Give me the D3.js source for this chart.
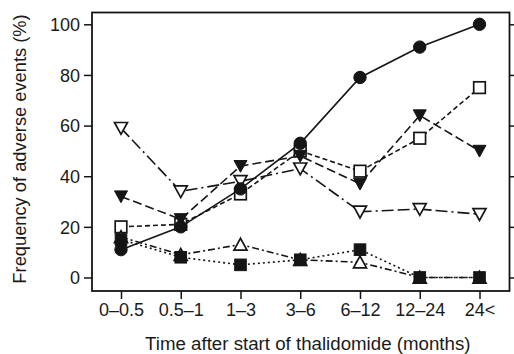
<!DOCTYPE html>
<html><head><meta charset="utf-8">
<script src="https://cdn.jsdelivr.net/npm/d3@7"></script>
<style>body{margin:0;background:#fff}svg{display:block}text{font-family:"Liberation Sans",Arial,sans-serif;fill:#1a1a1a}</style>
</head><body><svg id="c" width="514" height="354"></svg>
<script>
const categories = ["0\u20130.5","0.5\u20131","1\u20133","3\u20136","6\u201312","12\u201324","24<"];
const yTicks = [0,20,40,60,80,100];
const seriesCircle = [11,20,35,53,79,91,100];
const seriesOpenSquare = [20,21,33,50,42,55,75];
const seriesFilledDown = [32,23,44,48,37,64,50];
const seriesOpenDown = [59,34,38,43,26,27,25];
const seriesOpenUp = [16,9,13,7,6,0,0];
const seriesFilledSquare = [15,8,5,7,11,0,0];

const svg = d3.select("#c");
const L=92, R=509.5, T=12.5, B=291;
const x = d3.scalePoint().domain(categories).range([121,479.5]);
const y = d3.scaleLinear().domain([0,100]).range([277.5,24.3]);
const ink = "#151515";

const series = [
  {v:seriesOpenDown, dash:"12,4,12,4,2,4", m:"tdown", fill:"#fff"},
  {v:seriesOpenSquare, dash:"5,3", m:"square", fill:"#fff"},
  {v:seriesCircle, dash:null, m:"circle", fill:ink},
  {v:seriesFilledDown, dash:"9,4", m:"tdown", fill:ink},
  {v:seriesOpenUp, dash:"7,3,2,3", m:"tup", fill:"#fff"},
  {v:seriesFilledSquare, dash:"2,3", m:"square", fill:ink}
];

const line = d3.line().x((d,i)=>x(categories[i])).y(d=>y(d));
series.forEach(s=>{
  svg.append("path").attr("d",line(s.v)).attr("fill","none").attr("stroke",ink)
    .attr("stroke-width",1.6).attr("stroke-dasharray",s.dash);
});
function marker(g,s,cx,cy){
  const sw = s.fill==="#fff"?1.7:1;
  if(s.m==="circle") g.append("circle").attr("cx",cx).attr("cy",cy).attr("r",6.2).attr("fill",s.fill).attr("stroke",ink).attr("stroke-width",sw);
  else if(s.m==="square") g.append("rect").attr("x",cx-5.8).attr("y",cy-5.8).attr("width",11.6).attr("height",11.6).attr("fill",s.fill).attr("stroke",ink).attr("stroke-width",sw);
  else if(s.m==="tdown") g.append("path").attr("d",`M${cx-6.5},${cy-5.6}L${cx+6.5},${cy-5.6}L${cx},${cy+6.2}Z`).attr("fill",s.fill).attr("stroke",ink).attr("stroke-width",sw);
  else if(s.m==="tup") g.append("path").attr("d",`M${cx-6.5},${cy+5.6}L${cx+6.5},${cy+5.6}L${cx},${cy-6.2}Z`).attr("fill",s.fill).attr("stroke",ink).attr("stroke-width",sw);
}
series.forEach(s=>{
  const g=svg.append("g");
  s.v.forEach((d,i)=>marker(g,s,x(categories[i]),y(d)));
});

// frame
svg.append("rect").attr("x",L).attr("y",T).attr("width",R-L).attr("height",B-T)
  .attr("fill","none").attr("stroke",ink).attr("stroke-width",1.8);

// axes
const ax = svg.append("g").attr("transform",`translate(${L},0)`)
  .call(d3.axisLeft(y).tickValues(yTicks).tickSize(8).tickPadding(4).tickFormat(d3.format("d")));
const bx = svg.append("g").attr("transform",`translate(0,${B})`)
  .call(d3.axisBottom(x).tickSize(8).tickPadding(4));
const rx = svg.append("g").attr("transform",`translate(${R},0)`)
  .call(d3.axisRight(y).tickValues(yTicks).tickSize(6).tickFormat(""));
[ax,bx,rx].forEach(a=>{
  a.select(".domain").remove();
  a.selectAll(".tick line").attr("stroke",ink).attr("stroke-width",1.5);
  a.selectAll(".tick text").attr("font-size",18).attr("fill",ink);
});
ax.selectAll(".tick text").attr("dy","0.35em");

svg.append("text").attr("x",(L+R)/2+7).attr("y",350).attr("text-anchor","middle")
  .attr("font-size",18.7).text("Time after start of thalidomide (months)");
svg.append("text").attr("transform",`translate(26,149) rotate(-90)`).attr("text-anchor","middle")
  .attr("font-size",18.3).text("Frequency of adverse events (%)");
</script></body></html>
